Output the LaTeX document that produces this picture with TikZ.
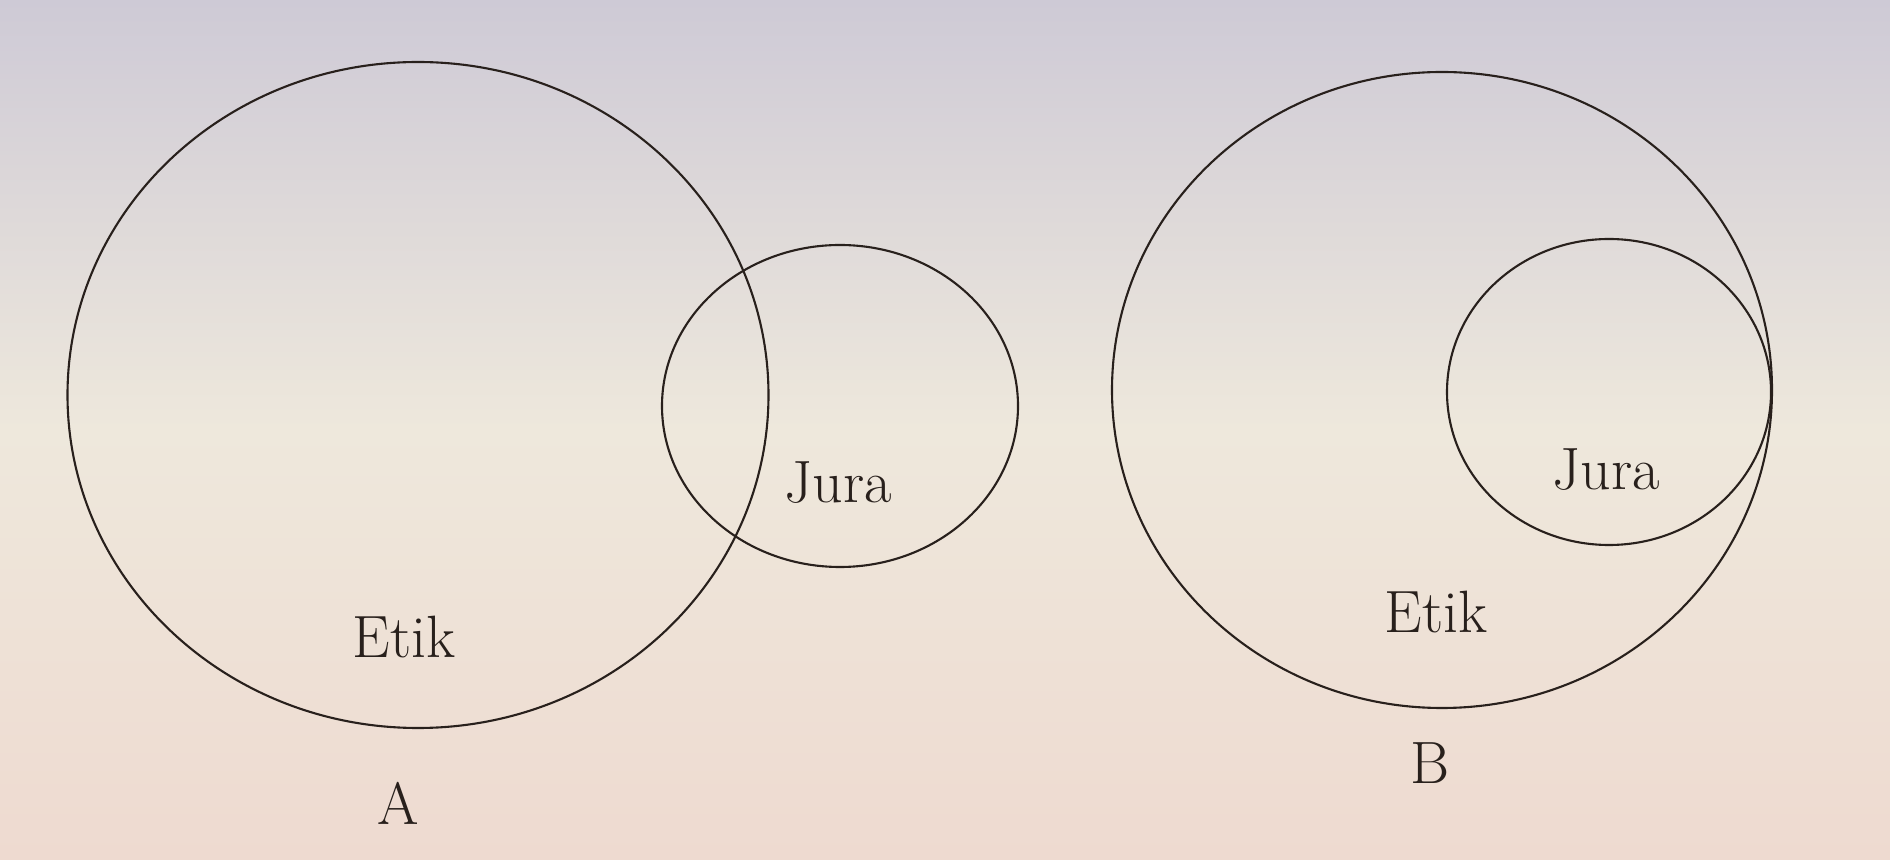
\documentclass[tikz,border=0pt]{standalone}
\usepackage{xcolor}
\usepackage{tikz}
\usetikzlibrary{positioning,shapes.geometric}
\definecolor{pagetop}{RGB}{206,202,214}
\definecolor{pagemid}{RGB}{238,232,220}
\definecolor{pagebot}{RGB}{238,218,208}
\definecolor{inkline}{RGB}{40,32,28}
\tikzset{
  setbig/.style={ellipse, draw=inkline, line width=0.6pt, inner sep=0pt, outer sep=0pt},
  setsmall/.style={ellipse, draw=inkline, line width=0.6pt, inner sep=0pt, outer sep=0pt},
  setlabel/.style={text=inkline, anchor=base, inner sep=0pt, font=\fontsize{17}{20}\selectfont},
  caselabel/.style={text=inkline, anchor=base, inner sep=0pt, font=\fontsize{17}{20}\selectfont}
}
\begin{document}
\begin{tikzpicture}
\shade[top color=pagetop, bottom color=pagebot, middle color=pagemid] (0,0) rectangle (18.9,8.6);
\useasboundingbox (0,0) rectangle (18.9,8.6);
% A: overlapping sets
\node[setbig, minimum width=7.01cm, minimum height=6.66cm] (etikA) at (4.18,4.65) {};
\node[setsmall, minimum width=3.56cm, minimum height=3.22cm] (juraA) at (8.40,4.54) {};
\node[setlabel] (etikAtxt) at (4.04,2.02) {Etik};
\node[setlabel] (juraAtxt) at (8.38,3.57) {Jura};
\node[caselabel] (caseA) at (3.98,0.35) {A};
% B: Jura inside Etik
\node[setbig, minimum width=6.60cm, minimum height=6.36cm] (etikB) at (14.42,4.70) {};
\node[setsmall, minimum width=3.24cm, minimum height=3.06cm] (juraB) at (16.09,4.68) {};
\node[setlabel] (etikBtxt) at (14.36,2.27) {Etik};
\node[setlabel] (juraBtxt) at (16.06,3.70) {Jura};
\node[caselabel] (caseB) at (14.30,0.76) {B};
\end{tikzpicture}
\end{document}
